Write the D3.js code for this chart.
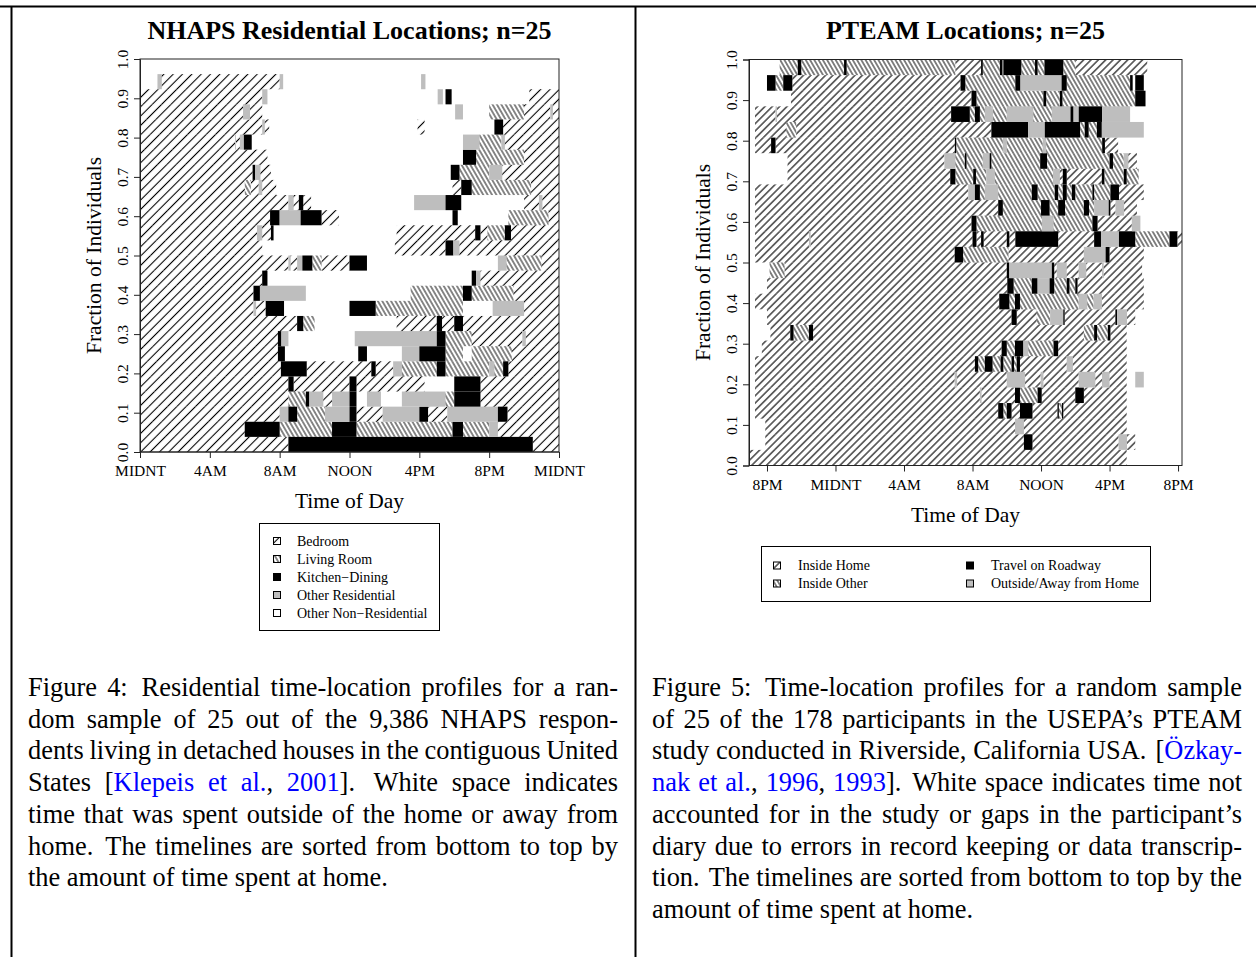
<!DOCTYPE html>
<html><head><meta charset="utf-8">
<script src="https://cdn.jsdelivr.net/npm/d3@7"></script>
<style>
html,body{margin:0;padding:0;background:#fff;}
svg{display:block;}
text{font-family:"Liberation Serif","Times New Roman",serif;fill:#000;}
</style></head><body>
<svg id="chart" width="1256" height="957"></svg>
<script>
// ---------------- DATA ----------------
const nhapsTitle = "NHAPS Residential Locations; n=25";
const pteamTitle = "PTEAM Locations; n=25";
const yTickValues = [0,0.1,0.2,0.3,0.4,0.5,0.6,0.7,0.8,0.9,1.0];
const yTickLabels = ["0.0","0.1","0.2","0.3","0.4","0.5","0.6","0.7","0.8","0.9","1.0"];
const nhapsTickHours = [0,4,8,12,16,20,24];
const nhapsTickLabels = ["MIDNT","4AM","8AM","NOON","4PM","8PM","MIDNT"];
const pteamTickHours = [-4,0,4,8,12,16,20];
const pteamTickLabels = ["8PM","MIDNT","4AM","8AM","NOON","4PM","8PM"];
const nhapsCodes = ["B","L","K","O","W"];
const nhapsLabels = ["Bedroom","Living Room","Kitchen\u2212Dining","Other Residential","Other Non\u2212Residential"];
const pteamCodes = ["H","I","T","A"];
const pteamLabels = ["Inside Home","Inside Other","Travel on Roadway","Outside/Away from Home"];
const rowSlots = 26;
// each row (bottom -> top): [start, code, end, code, end, ...] in hours; W = white (not drawn)
const nhapsRows = [
 [0,'B',8.5,'K',22.5,'B',24],
 [0,'B',6.0,'K',8.0,'L',11.0,'K',12.4,'L',17.9,'K',18.5,'L',20.0,'O',20.5,'B',24],
 [0,'B',8.0,'O',8.5,'K',9.0,'L',10.6,'O',12.0,'K',12.4,'B',13.9,'O',16.0,'K',16.5,'B',17.6,'O',20.5,'K',21.05,'B',24],
 [0,'B',8.5,'L',9.5,'K',9.7,'O',10.5,'B',11.0,'O',12.0,'K',12.4,'W',13.0,'O',13.8,'W',15.0,'O',17.5,'L',18.0,'K',19.5,'B',24],
 [0,'B',8.5,'K',8.8,'B',12.0,'K',12.4,'B',16.3,'W',18.0,'K',19.5,'B',24],
 [0,'B',8.07,'K',9.55,'B',13.25,'K',13.5,'B',14.5,'O',15.0,'L',17.0,'K',17.5,'L',20.0,'O',20.3,'L',20.8,'K',21.1,'B',24],
 [0,'B',7.9,'K',8.3,'W',12.5,'K',13.0,'W',15.0,'O',16.0,'K',17.5,'L',18.5,'W',19.0,'L',21.3,'B',24],
 [0,'B',7.9,'K',8.1,'O',8.5,'W',12.3,'O',17.0,'K',17.5,'L',19.0,'B',21.9,'O',22.1,'B',24],
 [0,'B',9.0,'K',9.35,'L',10.0,'W',14.7,'B',17.0,'K',17.3,'B',18.0,'K',18.5,'B',24],
 [0,'B',6.5,'O',6.65,'B',7.2,'K',8.25,'W',12.0,'K',13.5,'L',18.5,'W',20.2,'O',22.0,'B',24],
 [0,'B',6.5,'K',6.87,'O',9.5,'W',15.5,'L',18.5,'K',19.0,'L',21.4,'B',24],
 [0,'B',7.0,'K',7.3,'W',19.0,'K',19.25,'O',19.5,'B',24],
 [0,'B',8.5,'O',8.63,'B',9.0,'O',9.3,'K',9.87,'L',10.4,'B',12.0,'K',13.0,'W',20.5,'O',21.0,'L',23.0,'B',24],
 [0,'B',7.0,'W',14.6,'B',17.5,'K',17.95,'O',18.3,'B',24],
 [0,'B',6.7,'O',7.0,'B',7.5,'K',7.65,'W',14.7,'B',19.2,'K',19.5,'B',19.9,'L',20.9,'K',21.25,'B',24],
 [0,'B',7.45,'K',8.0,'O',9.2,'K',10.4,'B',11.4,'W',17.9,'K',18.2,'W',21.1,'L',23.4,'B',24],
 [0,'B',8.5,'O',8.8,'B',9.1,'K',9.35,'B',9.8,'W',15.7,'O',17.5,'K',18.4,'W',22.0,'B',22.85,'O',23.05,'B',24],
 [0,'B',6.0,'L',6.35,'B',6.8,'O',7.0,'B',7.8,'W',17.9,'B',18.4,'K',19.0,'L',22.4,'B',24],
 [0,'B',6.45,'K',6.6,'O',6.9,'B',7.5,'W',17.8,'K',18.3,'L',20.0,'O',20.75,'B',24],
 [0,'B',7.3,'W',18.5,'K',19.25,'L',22.0,'B',24],
 [0,'B',5.45,'O',5.5,'B',5.72,'O',5.95,'K',6.4,'W',18.5,'O',19.45,'L',20.7,'O',20.9,'B',24],
 [0,'B',7.0,'O',7.15,'B',7.4,'W',15.9,'B',16.3,'W',20.3,'K',20.8,'B',24],
 [0,'B',5.9,'O',6.3,'B',7.0,'W',18.05,'O',18.5,'W',20.0,'L',22.0,'B',23.5,'O',23.65,'B',24],
 [0,'B',7.0,'O',7.3,'W',17.05,'O',17.35,'W',17.5,'K',17.85,'W',22.3,'B',24],
 [1.0,'O',1.25,'B',8.0,'O',8.2,'W',16.1,'O',16.35]
];
const pteamRows = [
 [-5.05,'H',17.0],
 [-4.1,'H',11.0,'T',11.5,'H',16.53,'A',17.02,'H',17.5],
 [-4.1,'H',10.48,'A',11.0,'H',17.0],
 [-4.7,'H',9.5,'T',9.8,'I',10.0,'T',10.28,'H',10.77,'T',11.5,'H',12.96,'T',13.04,'I',13.22,'T',13.3,'H',17.0],
 [-4.7,'H',8.43,'A',8.53,'H',10.48,'T',10.77,'I',11.8,'T',12.04,'H',14.0,'T',14.5,'H',17.0],
 [-4.7,'H',6.96,'A',7.1,'H',10.0,'A',11.07,'H',11.98,'A',12.14,'H',14.2,'A',15.17,'H',15.56,'A',16.0,'H',17.0,'W',17.5,'A',18.0],
 [-4.7,'H',8.14,'T',8.33,'I',8.72,'T',9.17,'I',9.64,'T',9.8,'I',10.28,'T',10.42,'I',10.58,'T',10.77,'H',13.5,'A',13.86,'H',17.0],
 [-4.3,'H',9.7,'T',10.0,'I',10.48,'T',10.97,'A',11.26,'I',12.73,'T',13.0,'H',17.0],
 [-3.8,'H',-2.64,'T',-2.45,'I',-1.55,'T',-1.31,'H',14.5,'I',15.1,'T',15.27,'I',15.9,'T',16.05,'H',17.0],
 [-4.0,'H',10.28,'T',10.58,'H',11.75,'I',12.53,'A',13.3,'T',13.38,'H',16.34,'T',16.44,'A',17.02,'H',17.5],
 [-4.7,'H',9.56,'T',10.15,'I',10.48,'T',10.77,'I',14.2,'A',14.7,'I',15.07,'A',15.56,'H',18.0],
 [-4.0,'H',10.03,'T',10.4,'I',11.46,'T',11.8,'A',12.5,'T',12.77,'I',13.5,'T',13.66,'I',14.0,'T',14.13,'H',18.0],
 [-3.85,'I',-2.97,'H',10.0,'T',10.15,'A',12.63,'T',12.77,'H',12.92,'A',13.5,'H',14.2,'A',14.64,'H',15.56,'A',15.66,'H',17.9],
 [-4.7,'H',6.96,'T',7.45,'I',10.1,'H',14.5,'A',15.77,'T',16.0,'H',18.0],
 [-4.7,'H',-1.55,'A',-1.45,'H',8.0,'T',8.23,'H',8.5,'T',8.65,'H',10.0,'T',10.15,'H',10.5,'T',13.0,'H',15.1,'T',15.5,'A',16.55,'T',17.5,'I',19.5,'T',19.96,'H',20.23],
 [-4.7,'H',7.94,'T',8.23,'I',12.05,'A',12.73,'I',15.0,'T',15.3,'H',17.3,'A',17.8],
 [-4.7,'H',9.5,'T',9.77,'I',12.0,'T',12.5,'I',13.0,'T',13.4,'I',14.5,'T',14.8,'I',15.1,'A',15.95,'T',16.05,'H',16.35,'A',16.85,'H',17.6],
 [-4.7,'H',7.75,'A',8.14,'T',8.43,'I',8.72,'A',9.5,'I',11.46,'T',11.8,'I',12.8,'T',13.0,'I',13.27,'T',13.5,'I',13.8,'T',14.0,'I',15.0,'T',15.1,'I',16.05,'T',16.55,'H',18.0],
 [-2.8,'H',6.7,'T',7.0,'I',8.04,'T',8.2,'I',8.8,'A',9.3,'I',12.7,'A',13.1,'H',13.27,'T',13.5,'H',15.55,'T',15.7,'I',16.83,'T',17.0,'I',17.7],
 [-2.8,'H',6.36,'A',7.0,'I',7.55,'T',7.65,'I',8.6,'A',9.0,'T',9.1,'I',11.95,'T',12.35,'I',16.0,'T',16.2,'I',16.83,'A',17.1,'H',17.6],
 [-4.7,'H',-3.76,'T',-3.5,'H',6.97,'T',7.05,'I',9.77,'A',10.0,'I',12.1,'A',12.3,'I',15.57,'T',15.73,'H',16.5],
 [-4.7,'H',-2.88,'I',-2.29,'H',9.1,'T',11.25,'A',12.22,'T',14.28,'I',14.55,'T',14.78,'I',15.26,'T',15.55,'A',18.0],
 [-4.7,'H',-3.5,'A',-3.42,'H',6.75,'T',7.84,'I',8.14,'T',8.43,'I',8.72,'A',9.2,'I',10.0,'A',11.55,'I',12.63,'A',13.72,'T',13.9,'A',14.2,'T',15.57,'A',17.2],
 [-2.6,'H',7.94,'T',8.23,'I',12.14,'T',12.3,'I',13.1,'T',13.25,'I',17.5,'T',18.1],
 [-4.0,'T',-3.5,'I',-3.05,'T',-2.52,'H',7.3,'T',7.58,'I',10.5,'T',10.8,'A',13.2,'T',13.5,'I',17.2,'T',17.35,'W',17.5,'T',18.0],
 [-3.26,'I',-2.2,'T',-2.0,'I',0.5,'T',0.65,'I',7.0,'H',8.5,'T',8.6,'I',9.6,'T',9.75,'W',9.8,'T',10.85,'I',11.65,'T',11.8,'I',12.2,'T',13.3,'I',14.0,'H',18.2]
];
const captionLeft = [
 "Figure 4: Residential time-location profiles for a ran-",
 "dom sample of 25 out of the 9,386 NHAPS respon-",
 "dents living in detached houses in the contiguous United",
 "States [|Klepeis et al.|, |2001|]. White space indicates",
 "time that was spent outside of the home or away from",
 "home. The timelines are sorted from bottom to top by",
 "the amount of time spent at home."
];
const captionRight = [
 "Figure 5: Time-location profiles for a random sample",
 "of 25 of the 178 participants in the USEPA\u2019s PTEAM",
 "study conducted in Riverside, California USA. [|\u00D6zkay-|",
 "|nak et al.|, |1996|, |1993|]. White space indicates time not",
 "accounted for in the study or gaps in the participant\u2019s",
 "diary due to errors in record keeping or data transcrip-",
 "tion. The timelines are sorted from bottom to top by the",
 "amount of time spent at home."
];

// ---------------- DRAWING ----------------
const svg = d3.select("#chart");
const defs = svg.append("defs");
function addHatch(id, spacing, angle, sw){
  const p = defs.append("pattern").attr("id",id).attr("patternUnits","userSpaceOnUse")
    .attr("width",spacing).attr("height",40).attr("patternTransform",`rotate(${angle})`);
  p.append("line").attr("x1",spacing/2).attr("x2",spacing/2).attr("y1",0).attr("y2",40)
    .attr("stroke","#000").attr("stroke-width",sw);
}
addHatch("hBedL",6.6,45,1.1);
addHatch("hLivL",3.8,-30,0.95);
addHatch("hHomeR",5.2,45,1.1);
addHatch("hLivR",3.7,-30,0.95);

const GRAY = "#bebebe";
const fillLeft = {B:"url(#hBedL)",L:"url(#hLivL)",K:"#000",O:GRAY,W:"#fff"};
const fillRight = {H:"url(#hHomeR)",I:"url(#hLivR)",T:"#000",A:GRAY};

// frame lines
svg.append("line").attr("x1",0).attr("x2",1256).attr("y1",6.5).attr("y2",6.5).attr("stroke","#000").attr("stroke-width",2);
svg.append("line").attr("x1",11.5).attr("x2",11.5).attr("y1",6).attr("y2",957).attr("stroke","#000").attr("stroke-width",2);
svg.append("line").attr("x1",635.5).attr("x2",635.5).attr("y1",6).attr("y2",957).attr("stroke","#000").attr("stroke-width",2);

function panel(cfg){
  const g = svg.append("g");
  const x = d3.scaleLinear().domain(cfg.domain).range([cfg.x0,cfg.x1]);
  const y = d3.scaleLinear().domain([0,1]).range([cfg.yb,cfg.yt]);
  cfg.rows.forEach((row,i)=>{
    const yTop = y((i+1)/rowSlots), yBot = y(i/rowSlots);
    let start = row[0];
    for(let k=1;k<row.length;k+=2){
      const code = row[k], end = row[k+1];
      if(code!=='W'){
        g.append("rect").attr("x",x(start)).attr("y",yTop)
          .attr("width",Math.max(0.5,x(end)-x(start))).attr("height",yBot-yTop)
          .attr("fill",cfg.fills[code]);
      }
      start = end;
    }
  });
  // box
  g.append("rect").attr("x",cfg.x0).attr("y",cfg.yt).attr("width",cfg.x1-cfg.x0).attr("height",cfg.yb-cfg.yt)
    .attr("fill","none").attr("stroke","#222").attr("stroke-width",1);
  // x axis
  const xa = g.append("g").attr("transform",`translate(0,${cfg.yb})`)
    .call(d3.axisBottom(x).tickValues(cfg.ticks).tickFormat((d,i)=>cfg.tickLabels[i]).tickSize(6).tickPadding(7));
  xa.select(".domain").attr("d",`M${x(cfg.ticks[0])},0H${x(cfg.ticks[cfg.ticks.length-1])}`).attr("stroke","#222");
  xa.selectAll(".tick line").attr("stroke","#222");
  xa.selectAll("text").attr("font-family","Liberation Serif").attr("font-size",15.5).attr("fill","#000").attr("dy","0.71em");
  // y axis
  const ya = g.append("g").attr("transform",`translate(${cfg.x0},0)`)
    .call(d3.axisLeft(y).tickValues(yTickValues).tickFormat((d,i)=>yTickLabels[i]).tickSize(6));
  ya.select(".domain").attr("stroke","#222");
  ya.selectAll(".tick line").attr("stroke","#222");
  ya.selectAll(".tick text").attr("x",null).attr("dy",null).attr("text-anchor","middle")
    .attr("transform","translate(-12,0) rotate(-90)")
    .attr("font-family","Liberation Serif").attr("font-size",15.5).attr("fill","#000");
  // titles
  g.append("text").attr("x",(cfg.x0+cfg.x1)/2).attr("y",39).attr("text-anchor","middle")
    .attr("font-size",26).attr("font-weight","bold").text(cfg.title);
  g.append("text").attr("x",(cfg.x0+cfg.x1)/2).attr("y",cfg.yb+56).attr("text-anchor","middle")
    .attr("font-size",21.5).text("Time of Day");
  g.append("text").attr("transform",`translate(${cfg.x0-39},${(cfg.yb+cfg.yt)/2}) rotate(-90)`)
    .attr("text-anchor","middle").attr("font-size",21.5).text("Fraction of Individuals");
  return {x,y};
}

panel({x0:140,x1:559,yt:59,yb:452,domain:[0,24],rows:nhapsRows,fills:fillLeft,
  ticks:nhapsTickHours,tickLabels:nhapsTickLabels,title:nhapsTitle});
panel({x0:749,x1:1182,yt:59.5,yb:465.5,domain:[-5.05,20.23],rows:pteamRows,fills:fillRight,
  ticks:pteamTickHours,tickLabels:pteamTickLabels,title:pteamTitle});

// legends
function legendItem(g, ix, tx, cy, fill, label){
  g.append("rect").attr("x",ix).attr("y",cy-3.5).attr("width",7).attr("height",7)
    .attr("fill",fill).attr("stroke","#000").attr("stroke-width",1);
  g.append("text").attr("x",tx).attr("y",cy+4.8).attr("font-size",14).text(label);
}
const lg = svg.append("g");
lg.append("rect").attr("x",259.5).attr("y",523.5).attr("width",180).attr("height",107)
  .attr("fill","#fff").attr("stroke","#000").attr("stroke-width",1);
nhapsCodes.forEach((c,i)=>legendItem(lg,273.5,297,541+18*i,fillLeft[c],nhapsLabels[i]));
const rg = svg.append("g");
rg.append("rect").attr("x",761.5).attr("y",546.5).attr("width",389).attr("height",55)
  .attr("fill","#fff").attr("stroke","#000").attr("stroke-width",1);
pteamCodes.forEach((c,i)=>{
  const col = Math.floor(i/2), r = i%2;
  legendItem(rg, col? 966.5:773.5, col? 991:798, 565.5+18*r, fillRight[c], pteamLabels[i]);
});

// captions (justified)
const BLUE = "#0000ff";
function caption(lines, x0, x1, base, lh, fs){
  const g = svg.append("g").attr("font-size",fs);
  lines.forEach((line,li)=>{
    const parts = line.split("|");
    const words = []; let cur = [];
    parts.forEach((p,pi)=>{
      const color = pi%2 ? BLUE : "#000";
      const toks = p.split(" ");
      toks.forEach((t,ti)=>{
        if(ti>0){ if(cur.length) words.push(cur); cur=[]; }
        if(t.length) cur.push({t,color});
      });
    });
    if(cur.length) words.push(cur);
    const y = base + li*lh;
    const nodes = words.map(w=>{
      const t = g.append("text").attr("y",y);
      w.forEach(r=>t.append("tspan").attr("fill",r.color).style("fill",r.color).text(r.t));
      return t;
    });
    const widths = nodes.map(n=>n.node().getComputedTextLength());
    const total = d3.sum(widths);
    const last = li===lines.length-1;
    const weights = words.slice(0,-1).map(w=>{const s=w[w.length-1].t; return /[.:]$/.test(s)&&!/al\.$/.test(s)?1.35:1;});
    const wsum = d3.sum(weights);
    const unit = last ? fs*0.25 : (x1-x0-total)/wsum;
    let xx = x0;
    nodes.forEach((n,i)=>{ n.attr("x",xx); xx += widths[i] + (i<weights.length ? unit*weights[i] : 0); });
  });
}
caption(captionLeft, 28, 618, 696, 31.7, 26.4);
caption(captionRight, 652, 1242, 696, 31.7, 26.4);
</script>
</body></html>
